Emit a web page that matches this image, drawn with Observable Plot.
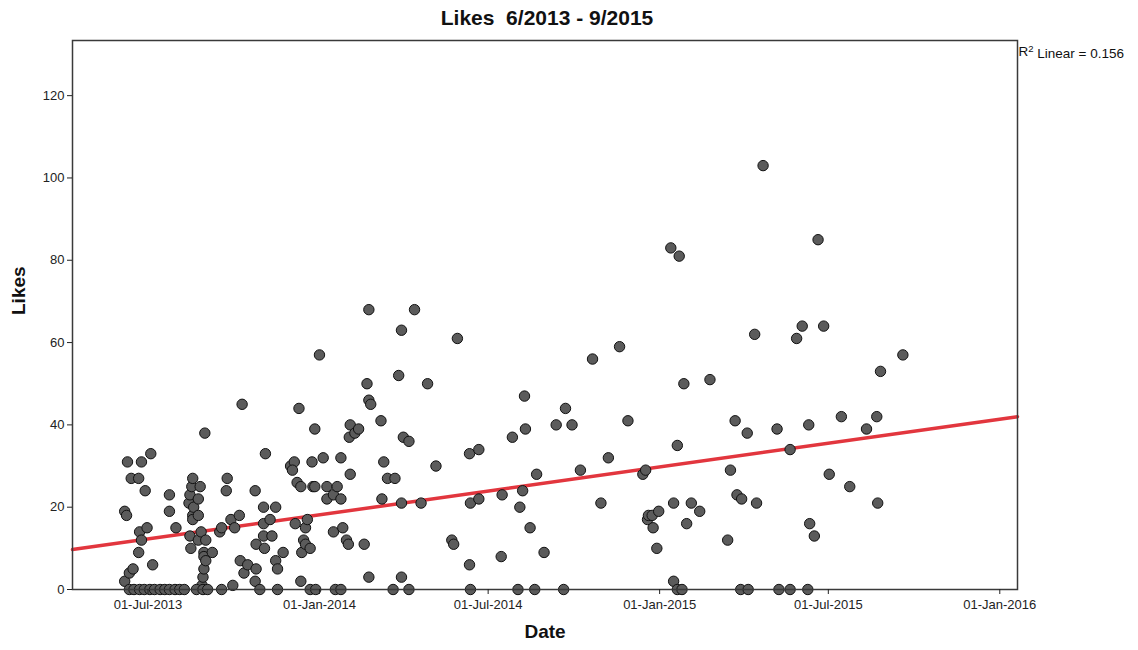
<!DOCTYPE html>
<html><head><meta charset="utf-8">
<script src="https://cdn.jsdelivr.net/npm/d3@7"></script>
<script src="https://cdn.jsdelivr.net/npm/@observablehq/plot@0.6"></script>
<style>
body{margin:0;background:#fff;font-family:"Liberation Sans",Arial,sans-serif;}
#title{width:1094px;height:24px;padding-top:6px;line-height:24px;text-align:center;font-weight:bold;font-size:21px;color:#111;white-space:pre;}
</style></head><body>
<div id="title">Likes  6/2013 - 9/2015</div>
<div id="chart"></div>
<script>
// Posts with at least one like (date, likes)
const pointDates = [
"2013-06-06","2013-06-06","2013-06-08","2013-06-09","2013-06-11","2013-06-13","2013-06-15","2013-06-21","2013-06-21","2013-06-22","2013-06-24","2013-06-24","2013-06-28","2013-06-30","2013-07-04","2013-07-06",
"2013-07-24","2013-07-24","2013-07-31","2013-08-14","2013-08-15","2013-08-15","2013-08-16","2013-08-17","2013-08-18","2013-08-18","2013-08-18","2013-08-19","2013-08-24","2013-08-24","2013-08-24","2013-08-26","2013-08-27","2013-08-28","2013-08-29","2013-08-30","2013-08-30","2013-08-30","2013-08-31","2013-09-01","2013-09-01","2013-09-08","2013-09-16","2013-09-18","2013-09-23","2013-09-24","2013-09-28","2013-09-30","2013-10-02","2013-10-07","2013-10-08","2013-10-10","2013-10-12","2013-10-16","2013-10-24","2013-10-24","2013-10-25","2013-10-25",
"2013-11-02","2013-11-02","2013-11-02","2013-11-03","2013-11-04","2013-11-09","2013-11-11","2013-11-15","2013-11-15","2013-11-17","2013-11-23","2013-12-01","2013-12-05","2013-12-03","2013-12-06","2013-12-08","2013-12-10","2013-12-12","2013-12-12","2013-12-13","2013-12-15","2013-12-17","2013-12-17","2013-12-19","2013-12-22","2013-12-24","2013-12-25","2013-12-27","2013-12-27",
"2014-01-01","2014-01-05","2014-01-09","2014-01-09","2014-01-16","2014-01-16","2014-01-20","2014-01-24","2014-01-24","2014-01-26","2014-01-30","2014-02-01","2014-02-02","2014-02-03","2014-02-03","2014-02-08","2014-02-12","2014-02-18","2014-02-21","2014-02-23","2014-02-23","2014-02-23","2014-02-25","2014-03-08","2014-03-09","2014-03-11","2014-03-15","2014-03-23","2014-03-27","2014-03-30","2014-03-30","2014-03-30","2014-04-01","2014-04-07","2014-04-13","2014-04-20","2014-04-27","2014-05-06","2014-05-23","2014-05-25","2014-05-29",
"2014-06-11","2014-06-11","2014-06-12","2014-06-21","2014-06-21","2014-07-15","2014-07-16","2014-07-27","2014-08-04","2014-08-07","2014-08-09","2014-08-10","2014-08-15","2014-08-22","2014-08-30","2014-09-12","2014-09-22","2014-09-29","2014-10-08","2014-10-21","2014-10-30","2014-11-07","2014-11-19","2014-11-28",
"2014-12-14","2014-12-17","2014-12-19","2014-12-20","2014-12-24","2014-12-25","2014-12-29","2014-12-31","2015-01-13","2015-01-16","2015-01-16","2015-01-20","2015-01-22","2015-01-27","2015-01-30","2015-02-04","2015-02-13","2015-02-24","2015-03-15","2015-03-18","2015-03-23","2015-03-25","2015-03-30","2015-04-05","2015-04-13","2015-04-15","2015-04-22","2015-05-07","2015-05-21","2015-05-28","2015-06-03","2015-06-10","2015-06-11","2015-06-16","2015-06-20",
"2015-06-26","2015-07-02","2015-07-15","2015-07-24","2015-08-11","2015-08-22","2015-08-23","2015-08-26","2015-09-19"
];
const pointLikes = [
2,19,18,31,4,27,5,27,9,14,31,12,24,15,33,6,
23,19,15,21,13,23,10,25,27,18,17,20,12,22,18,25,14,1,3,9,8,5,38,12,7,9,14,15,24,27,17,1,15,18,7,45,4,6,24,2,5,11,
16,20,13,10,33,17,13,20,7,5,9,30,31,29,16,26,44,25,2,9,12,15,11,17,10,31,25,25,39,
57,32,22,25,23,14,25,32,22,15,12,11,37,40,28,38,39,11,50,3,68,46,45,41,22,31,27,27,52,21,3,63,37,36,68,21,50,30,12,11,61,
33,6,21,22,34,8,23,37,20,24,47,39,15,28,9,40,44,40,29,56,21,32,59,41,
28,29,17,18,18,15,10,19,83,21,2,35,81,50,16,21,19,51,12,29,41,23,22,38,62,21,103,39,34,61,64,40,16,13,85,
64,28,42,25,39,42,21,53,57
];
// Posts with zero likes
const zeroDates = [
"2013-06-11","2013-06-16","2013-06-22","2013-06-27","2013-07-03","2013-07-08","2013-07-14","2013-07-19","2013-07-24","2013-07-30","2013-08-04","2013-08-09","2013-08-22","2013-08-29","2013-09-03","2013-09-18","2013-10-29","2013-11-17","2013-12-22","2013-12-28",
"2014-01-18","2014-01-24","2014-03-21","2014-04-07","2014-06-12","2014-08-02","2014-08-20","2014-09-20",
"2015-01-20","2015-01-25","2015-03-29","2015-04-06","2015-05-09","2015-05-21","2015-06-09"
];
// Linear fit line
const fitDates = ["2013-04-11","2016-01-20"];
const fitLikes = [9.7, 42.0];
const xTickDates = ["2013-07-01","2014-01-01","2014-07-01","2015-01-01","2015-07-01","2016-01-01"];
const yTicks = [0,20,40,60,80,100,120];
const xLabel = "Date";
const yLabel = "Likes";
const r2Value = "0.156";

const points = pointDates.map((d,i)=>({date:new Date(d), likes:pointLikes[i]}))
  .concat(zeroDates.map(d=>({date:new Date(d), likes:0})));
const fit = fitDates.map((d,i)=>({date:new Date(d), likes:fitLikes[i]}));

const chart = Plot.plot({
  width: 1138, height: 620,
  marginTop: 10, marginBottom: 61, marginLeft: 72, marginRight: 121,
  style: {fontFamily: "'Liberation Sans', Arial, sans-serif", fontSize: "13px", color: "#222", background: "#fff", overflow: "visible"},
  x: {type: "utc", domain: [new Date(fitDates[0]), new Date(fitDates[1])]},
  y: {domain: [0, 133.4]},
  marks: [
    Plot.line(fit, {x: "date", y: "likes", stroke: "#e2363e", strokeWidth: 3.5}),
    Plot.dot(points, {x: "date", y: "likes", r: 5.2, fill: "#5b5b5b", stroke: "#111", strokeWidth: 1, fillOpacity: 1}),
    Plot.frame({stroke: "#3a3a3a", strokeWidth: 1.5}),
    Plot.axisY({ticks: yTicks, tickSize: 5, tickPadding: 3, label: null, fontSize: 13}),
    Plot.axisX({ticks: xTickDates.map(d=>new Date(d)), tickFormat: d3.utcFormat("%d-%b-%Y"), tickSize: 5, tickPadding: 5, label: null, fontSize: 13}),
    Plot.text([yLabel], {text: d=>d, frameAnchor: "left", dx: -54, rotate: -90, fontWeight: "bold", fontSize: 19, fill: "#111"}),
    Plot.text([xLabel], {text: d=>d, frameAnchor: "bottom", dy: 48, fontWeight: "bold", fontSize: 19, fill: "#111"}),
    Plot.text(["R2 Linear = " + r2Value], {text: d=>d, frameAnchor: "top-right", textAnchor: "start", dx: 1, dy: 6, fontSize: 13.5, fill: "#111", className: "r2label"})
  ]
});
// render the "2" of R² as a real superscript
d3.select(chart).selectAll(".r2label text").each(function() {
  const t = d3.select(this);
  t.text(null);
  t.append("tspan").text("R");
  t.append("tspan").attr("dy", "-0.45em").attr("font-size", "9.5px").text("2");
  t.append("tspan").attr("dy", "0.45em").text(" Linear = " + r2Value);
});
document.getElementById("chart").appendChild(chart);
</script>
</body></html>
